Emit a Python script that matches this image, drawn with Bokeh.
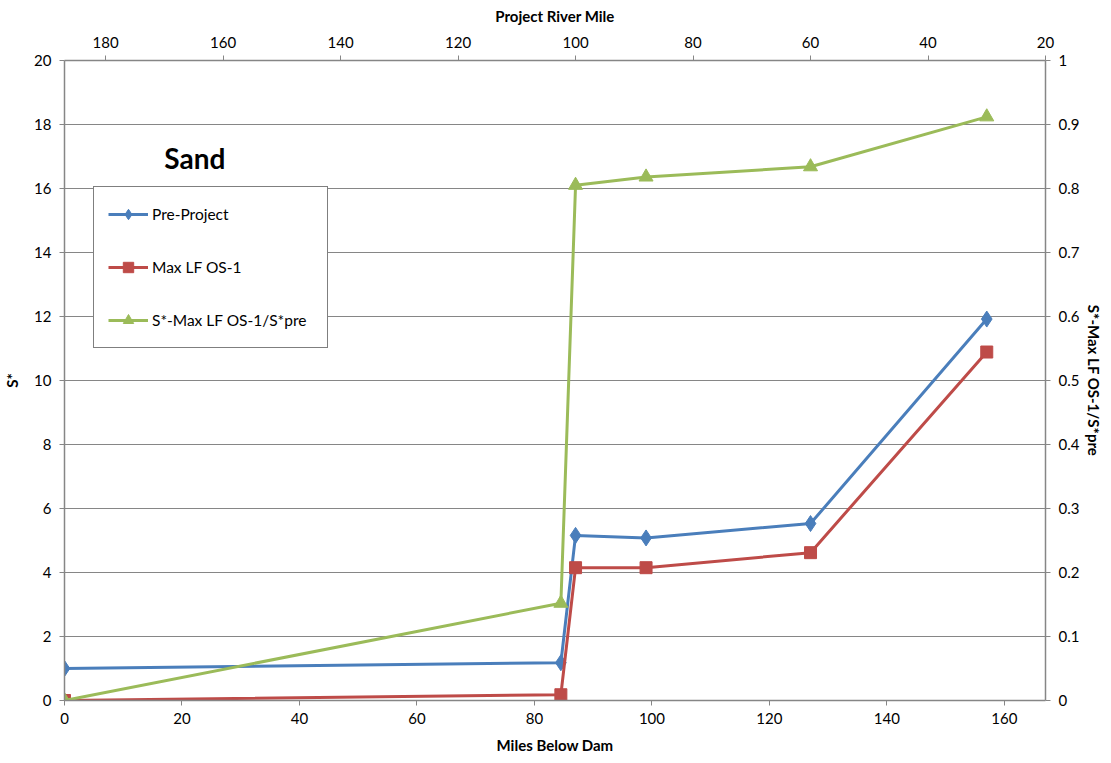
from bokeh.plotting import figure
from bokeh.models import (Range1d, LinearAxis, FixedTicker, Legend, LegendItem, Label)
from bokeh.embed import file_html
from bokeh.resources import INLINE

# ---- data ----
miles_below_dam = [0, 84.5, 87, 99, 127, 157]
pre_project = [1.0, 1.18, 5.16, 5.08, 5.53, 11.92]
max_lf_os1 = [0.0, 0.18, 4.15, 4.15, 4.62, 10.89]
ratio = [0.0, 0.152, 0.805, 0.818, 0.834, 0.912]

series_names = ["Pre-Project", "Max LF OS-1", "S*-Max LF OS-1/S*pre"]
bottom_ticks = [0, 20, 40, 60, 80, 100, 120, 140, 160]
top_ticks = [180, 160, 140, 120, 100, 80, 60, 40, 20]
left_ticks = [0, 2, 4, 6, 8, 10, 12, 14, 16, 18, 20]
right_ticks = [0, 0.1, 0.2, 0.3, 0.4, 0.5, 0.6, 0.7, 0.8, 0.9, 1.0]

FONT = "Lato"
GRAY = "#868686"
BLUE = "#4A7EBB"
RED = "#BE4B48"
GREEN = "#9BBB59"

p = figure(frame_width=981, frame_height=640,
           x_range=Range1d(0, 167), y_range=Range1d(0, 20),
           output_backend="svg", toolbar_location=None,
           min_border_left=58, min_border_right=50,
           min_border_top=60, min_border_bottom=50,
           background_fill_color="white", border_fill_color="white")
p.outline_line_color = None
p.extra_x_ranges = {"rm": Range1d(187, 20)}
p.extra_y_ranges = {"ratio": Range1d(0, 1)}

def style_axis(ax, label, ticks, label_standoff=8, axis_label_standoff=10):
    ax.axis_label = label
    ax.ticker = FixedTicker(ticks=ticks)
    ax.axis_line_color = GRAY
    ax.axis_line_width = 1.5
    ax.major_tick_line_color = GRAY
    ax.major_tick_out = 5
    ax.major_tick_in = 0
    ax.minor_tick_line_color = None
    ax.major_label_text_font = FONT
    ax.major_label_text_font_size = "15px"
    ax.major_label_text_color = "black"
    ax.axis_label_text_font = FONT
    ax.axis_label_text_font_style = "bold"
    ax.axis_label_text_font_size = "15px"
    ax.axis_label_text_color = "black"
    ax.major_label_standoff = label_standoff
    ax.axis_label_standoff = axis_label_standoff

style_axis(p.xaxis[0], "Miles Below Dam", bottom_ticks, 7, 9)
style_axis(p.yaxis[0], "S*", left_ticks, 8, 10)

top_axis = LinearAxis(x_range_name="rm")
style_axis(top_axis, "Project River Mile", top_ticks, 8, 9)
p.add_layout(top_axis, "above")

right_axis = LinearAxis(y_range_name="ratio")
style_axis(right_axis, "S*-Max LF OS-1/S*pre", right_ticks, 8, 3)
right_axis.major_label_overrides = {0: "0", 1: "1"}
p.add_layout(right_axis, "right")

p.xgrid.grid_line_color = None
p.ygrid.grid_line_color = GRAY
p.ygrid.grid_line_width = 1
p.ygrid.ticker = FixedTicker(ticks=left_ticks)

l1 = p.line(miles_below_dam, pre_project, line_color=BLUE, line_width=3)
m1 = p.scatter(miles_below_dam, pre_project, marker="diamond", size=16,
               fill_color=BLUE, line_color=BLUE)
l2 = p.line(miles_below_dam, max_lf_os1, line_color=RED, line_width=3)
m2 = p.scatter(miles_below_dam, max_lf_os1, marker="square", size=12,
               fill_color=RED, line_color=RED)
l3 = p.line(miles_below_dam, ratio, line_color=GREEN, line_width=3, y_range_name="ratio")
m3 = p.scatter(miles_below_dam, ratio, marker="triangle", size=14,
               fill_color=GREEN, line_color=GREEN, y_range_name="ratio")

legend = Legend(items=[
    LegendItem(label=series_names[0], renderers=[l1, m1]),
    LegendItem(label=series_names[1], renderers=[l2, m2]),
    LegendItem(label=series_names[2], renderers=[l3, m3]),
], location=(29, 352))
legend.border_line_color = "black"
legend.border_line_width = 1
legend.background_fill_color = "white"
legend.background_fill_alpha = 1
legend.label_text_font = FONT
legend.label_text_font_size = "15.5px"
legend.label_text_color = "black"
legend.glyph_width = 40
legend.glyph_height = 26
legend.label_height = 26
legend.label_width = 161
legend.spacing = 27
legend.padding = 14
legend.margin = 0
legend.label_standoff = 4
p.add_layout(legend, "center")

p.add_layout(Label(x=22.2, y=16.95, text="Sand", text_font=FONT,
                   text_font_style="bold", text_font_size="28px",
                   text_align="center", text_baseline="middle", text_color="black"))

open("out.html", "w").write(file_html(p, INLINE))
